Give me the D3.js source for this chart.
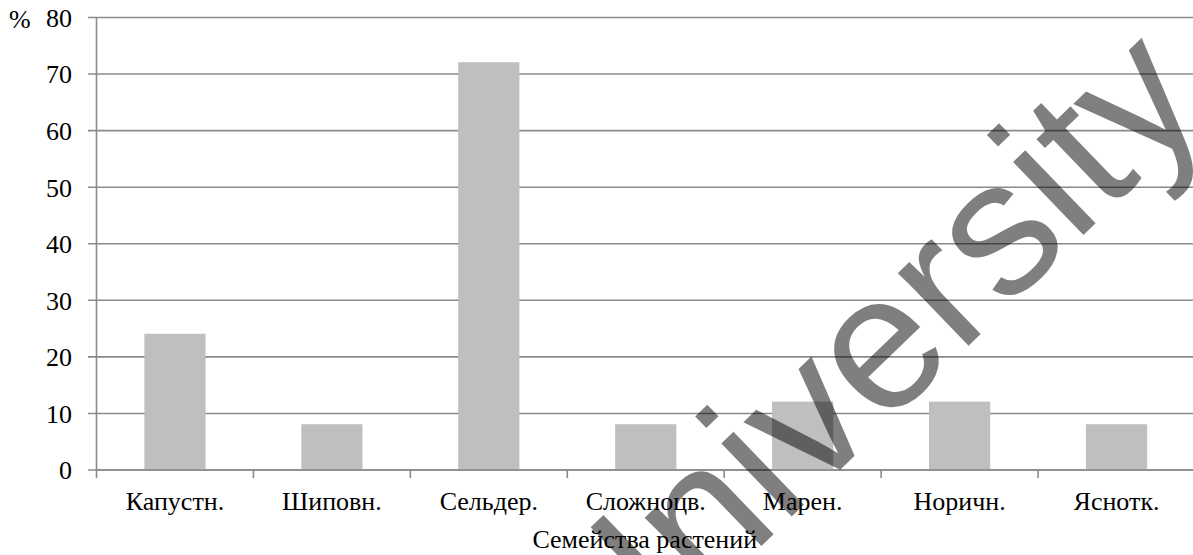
<!DOCTYPE html>
<html>
<head>
<meta charset="utf-8">
<script src="https://cdn.jsdelivr.net/npm/d3@7"></script>
<style>
  html, body { margin: 0; padding: 0; background: #fff; }
  svg { display: block; }
</style>
</head>
<body>
<svg id="chart" width="1193" height="555"></svg>
<script>
const categories = ["Капустн.", "Шиповн.", "Сельдер.", "Сложноцв.", "Марен.", "Норичн.", "Яснотк."];
const values = [24, 8, 72, 8, 12, 12, 8];
const yTicks = [0, 10, 20, 30, 40, 50, 60, 70, 80];
const yUnit = "%";
const xTitle = "Семейства растений";
const watermark = "University";

(function () {
const svg = d3.select("#chart");
const font = "'Liberation Serif', 'Times New Roman', serif";
const plotLeft = 96.5, plotRight = 1195, plotTop = 17, plotBottom = 469.5;

const x = d3.scaleBand().domain(categories).range([plotLeft, plotRight]).padding(0);
const y = d3.scaleLinear().domain([0, 80]).range([plotBottom, plotTop]);

// grid + y labels
const gy = svg.append("g").attr("transform", "translate(88,0)")
  .call(d3.axisLeft(y).tickValues(yTicks).tickSize(-(plotRight - 88)).tickPadding(16));
gy.select(".domain").remove();
gy.selectAll(".tick line").attr("stroke", "#8a8a8a").attr("stroke-width", 1.6);
gy.selectAll(".tick text").attr("font-family", font).attr("font-size", 26)
  .attr("fill", "#000").attr("dy", "0.36em");

// bars
const barW = x.bandwidth() * 0.39;
svg.append("g").selectAll("rect").data(categories).join("rect")
  .attr("x", (d) => x(d) + x.bandwidth() / 2 - barW / 2)
  .attr("width", barW)
  .attr("y", (d, i) => y(values[i]))
  .attr("height", (d, i) => y(0) - y(values[i]))
  .attr("fill", "#bfbfbf");

// y axis line
svg.append("line").attr("x1", plotLeft).attr("x2", plotLeft).attr("y1", y(80)).attr("y2", y(0) + 8.5)
  .attr("stroke", "#8a8a8a").attr("stroke-width", 1.6);

// x axis
const gx = svg.append("g").attr("transform", `translate(0,${y(0)})`)
  .call(d3.axisBottom(x).tickSize(0).tickPadding(22));
gx.select(".domain").attr("stroke", "#8a8a8a").attr("stroke-width", 1.6);
gx.selectAll(".tick text").attr("font-family", font).attr("font-size", 26).attr("fill", "#000");
const boundaries = categories.map((c) => x(c)).concat([x(categories[categories.length - 1]) + x.bandwidth()]);
gx.append("g").selectAll("line").data(boundaries.slice(1)).join("line")
  .attr("x1", (d) => d).attr("x2", (d) => d).attr("y1", 0).attr("y2", 8.5)
  .attr("stroke", "#8a8a8a").attr("stroke-width", 1.6);

// unit label
svg.append("text").attr("x", 9).attr("y", 28).attr("font-family", font).attr("font-size", 26)
  .attr("fill", "#000").text(yUnit);

// x title
svg.append("text").attr("x", (plotLeft + plotRight) / 2 - 1).attr("y", 548).attr("text-anchor", "middle")
  .attr("font-family", font).attr("font-size", 26).attr("fill", "#000").text(xTitle);

// watermark
svg.append("text").attr("transform", "translate(606,696) rotate(-44)")
  .attr("font-family", "'Liberation Sans', Arial, sans-serif").attr("font-size", 192)
  .attr("fill", "#000").attr("fill-opacity", 0.5).text(watermark);
})();
</script>
</body>
</html>
